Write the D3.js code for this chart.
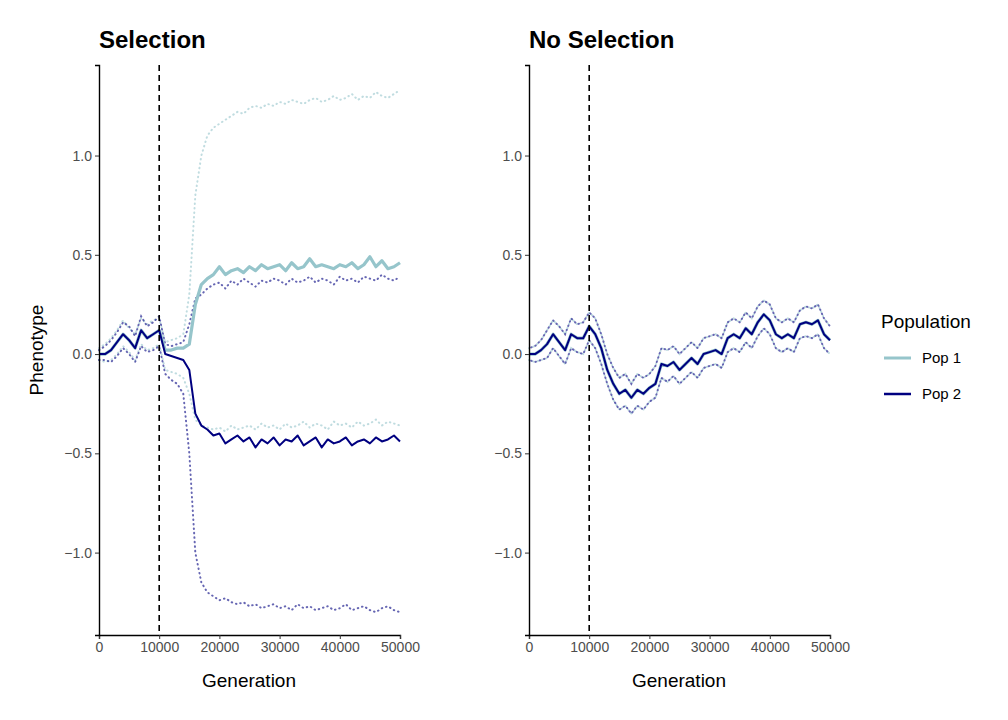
<!DOCTYPE html>
<html lang="en">
<head>
<meta charset="UTF-8">
<title>Selection vs No Selection</title>
<script src="https://d3js.org/d3.v7.min.js"></script>
<style>
  body { margin: 0; background: #fff; }
  text { font-family: "Liberation Sans", Arial, sans-serif; }
</style>
</head>
<body>
<svg width="1008" height="720"></svg>
<script>
// generations sampled every 1000
var gens = d3.range(0, 50001, 1000);

// Selection panel
var selPop1Mean = [0,0.0,0.02,0.06,0.1,0.07,0.03,0.12,0.08,0.1,0.12,
  0.02,0.02,0.03,0.03,0.05,0.25,0.35,0.38,0.4,0.44,0.4,0.42,0.43,0.41,0.44,0.42,0.45,0.43,0.44,0.45,
  0.42,0.46,0.43,0.44,0.48,0.44,0.45,0.44,0.43,0.45,0.44,0.46,0.43,0.45,0.49,0.44,0.47,0.43,0.44,0.46];
var selPop2Mean = [0,0.0,0.02,0.06,0.1,0.07,0.03,0.12,0.08,0.1,0.12,
  0.0,-0.01,-0.02,-0.03,-0.08,-0.3,-0.36,-0.38,-0.41,-0.4,-0.45,-0.43,-0.41,-0.44,-0.42,-0.47,-0.43,-0.45,-0.42,-0.46,
  -0.43,-0.44,-0.41,-0.46,-0.44,-0.42,-0.47,-0.43,-0.45,-0.44,-0.42,-0.46,-0.44,-0.43,-0.45,-0.42,-0.44,-0.43,-0.41,-0.44];
var selPop1Hi = [0.03,0.05,0.08,0.12,0.17,0.13,0.1,0.18,0.15,0.17,0.18,
  0.06,0.07,0.08,0.1,0.3,0.8,1.0,1.1,1.14,1.16,1.18,1.2,1.22,1.21,1.24,1.25,1.24,1.26,1.25,1.27,
  1.26,1.28,1.27,1.26,1.28,1.29,1.27,1.28,1.3,1.28,1.29,1.31,1.28,1.3,1.29,1.32,1.3,1.29,1.31,1.33];
var selPop1Lo = [-0.03,-0.04,-0.03,0.0,0.04,0.01,-0.03,0.05,0.02,0.03,0.05,
  -0.08,-0.09,-0.1,-0.12,-0.2,-0.33,-0.36,-0.37,-0.38,-0.37,-0.39,-0.36,-0.38,-0.37,-0.36,-0.38,-0.35,-0.37,-0.36,-0.38,
  -0.35,-0.37,-0.36,-0.34,-0.37,-0.35,-0.36,-0.38,-0.34,-0.36,-0.35,-0.37,-0.34,-0.36,-0.35,-0.33,-0.36,-0.34,-0.35,-0.36];
var selPop2Hi = [0.02,0.04,0.07,0.11,0.16,0.14,0.09,0.19,0.14,0.16,0.19,
  0.05,0.04,0.05,0.06,0.15,0.28,0.3,0.33,0.35,0.36,0.33,0.37,0.35,0.38,0.36,0.34,0.37,0.36,0.38,0.37,
  0.35,0.38,0.36,0.37,0.39,0.36,0.38,0.37,0.35,0.39,0.37,0.38,0.36,0.39,0.38,0.37,0.4,0.38,0.37,0.39];
var selPop2Lo = [-0.03,-0.03,-0.04,-0.01,0.03,0.0,-0.04,0.04,0.01,0.02,0.04,
  -0.1,-0.13,-0.15,-0.2,-0.5,-1.0,-1.15,-1.2,-1.22,-1.24,-1.23,-1.25,-1.26,-1.25,-1.27,-1.26,-1.28,-1.27,-1.26,-1.28,
  -1.27,-1.29,-1.26,-1.28,-1.27,-1.29,-1.28,-1.27,-1.29,-1.28,-1.26,-1.29,-1.28,-1.27,-1.29,-1.3,-1.28,-1.27,-1.29,-1.3];

// No selection panel (both populations coincide)
var neuMean = [0,0.0,0.02,0.05,0.1,0.06,0.02,0.1,0.08,0.08,0.14,0.1,0.03,-0.08,-0.15,-0.2,-0.18,-0.22,-0.18,-0.2,-0.17,
  -0.15,-0.05,-0.06,-0.04,-0.08,-0.05,-0.02,-0.05,0.0,0.01,0.02,0.0,0.08,0.1,0.08,0.13,0.1,0.16,0.2,0.17,
  0.1,0.08,0.1,0.08,0.15,0.16,0.15,0.17,0.1,0.07];
var neuHi = [0.03,0.04,0.07,0.12,0.17,0.14,0.1,0.18,0.15,0.16,0.21,0.18,0.1,0.0,-0.07,-0.12,-0.1,-0.15,-0.1,-0.12,-0.1,
  -0.06,0.03,0.02,0.04,0.0,0.03,0.06,0.03,0.08,0.09,0.1,0.08,0.16,0.18,0.16,0.21,0.18,0.24,0.27,0.25,
  0.18,0.16,0.18,0.16,0.22,0.24,0.23,0.25,0.18,0.14];
var neuLo = [-0.03,-0.04,-0.03,-0.02,0.03,-0.01,-0.05,0.03,0.01,0.0,0.07,0.03,-0.05,-0.15,-0.23,-0.28,-0.26,-0.3,-0.26,-0.28,-0.24,
  -0.22,-0.12,-0.14,-0.11,-0.15,-0.12,-0.09,-0.12,-0.07,-0.06,-0.05,-0.07,0.01,0.03,0.01,0.06,0.03,0.09,0.13,0.1,
  0.03,0.01,0.03,0.01,0.08,0.09,0.08,0.1,0.03,0.0];

var yTicks = [-1.0, -0.5, 0.0, 0.5, 1.0];
var xTicks = [0, 10000, 20000, 30000, 40000, 50000];
var pop1Color = "#96c5cb", pop2Color = "#000080";

var svg = d3.select("svg");
var y = d3.scaleLinear().domain([-1.415, 1.456]).range([635, 65]);

var panels = [
  { title: "Selection", x0: 99, lines: [
    { v: selPop1Hi, c: pop1Color, dot: true }, { v: selPop1Lo, c: pop1Color, dot: true },
    { v: selPop2Hi, c: pop2Color, dot: true }, { v: selPop2Lo, c: pop2Color, dot: true },
    { v: selPop1Mean, c: pop1Color, w: 3.2 }, { v: selPop2Mean, c: pop2Color, w: 2 }] },
  { title: "No Selection", x0: 529, lines: [
    { v: neuHi, c: pop1Color, dot: true }, { v: neuLo, c: pop1Color, dot: true },
    { v: neuHi, c: pop2Color, dot: true, off: 1 }, { v: neuLo, c: pop2Color, dot: true, off: 1 },
    { v: neuMean, c: pop1Color, w: 3.2 }, { v: neuMean, c: pop2Color, w: 2 }] }
];

panels.forEach(function(p) {
  var x = d3.scaleLinear().domain([0, 50000]).range([p.x0, p.x0 + 301]);
  var g = svg.append("g");

  p.lines.forEach(function(l) {
    var line = d3.line().x(function(d, i) { return x(gens[i]); }).y(function(d) { return y(d); });
    var path = g.append("path").datum(l.v).attr("d", line).attr("fill", "none")
      .attr("stroke", l.c).attr("stroke-width", l.dot ? 2 : l.w);
    if (l.dot) path.attr("stroke-dasharray", "0.5,4").attr("stroke-dashoffset", l.off ? 2.2 : 0)
      .attr("stroke-linecap", "round").attr("opacity", 0.6);
    else path.attr("stroke-linejoin", "round");
  });

  g.append("line").attr("x1", x(10000)).attr("x2", x(10000)).attr("y1", 65).attr("y2", 635)
    .attr("stroke", "#000").attr("stroke-width", 1.6).attr("stroke-dasharray", "6,4");

  var xa = g.append("g").attr("transform", "translate(0,635)")
    .call(d3.axisBottom(x).tickValues(xTicks).tickFormat(d3.format("d")).tickSizeOuter(0).tickSize(4));
  var ya = g.append("g").attr("transform", "translate(" + p.x0 + ",0)")
    .call(d3.axisLeft(y).tickValues(yTicks).tickFormat(d3.format(".1f")).tickSizeOuter(0).tickSize(4));
  [xa, ya].forEach(function(a) {
    a.select(".domain").attr("stroke", "#000").attr("stroke-width", 1.4);
    a.selectAll(".tick line").attr("stroke", "#333");
    a.selectAll(".tick text").attr("fill", "#4d4d4d").style("font-size", "14px")
      .style("font-family", "Liberation Sans, Arial, sans-serif");
  });
  ya.selectAll(".tick text").text(function(d) { return d < 0 ? "\u2212" + d3.format(".1f")(-d) : d3.format(".1f")(d); });

  g.append("text").attr("x", p.x0).attr("y", 48).text(p.title)
    .style("font-size", "24px").style("font-weight", "bold");
  g.append("text").attr("x", p.x0 + 150).attr("y", 687).attr("text-anchor", "middle")
    .text("Generation").style("font-size", "19px");
});

svg.append("text").attr("transform", "translate(43,350) rotate(-90)").attr("text-anchor", "middle")
  .text("Phenotype").style("font-size", "19px");

var leg = svg.append("g").attr("transform", "translate(881,0)");
leg.append("text").attr("x", 0).attr("y", 328).text("Population").style("font-size", "19px");
[["Pop 1", pop1Color, 3], ["Pop 2", pop2Color, 2.5]].forEach(function(it, i) {
  var yy = 358 + i * 36;
  leg.append("line").attr("x1", 3).attr("x2", 30).attr("y1", yy).attr("y2", yy)
    .attr("stroke", it[1]).attr("stroke-width", it[2]);
  leg.append("text").attr("x", 41).attr("y", yy + 5).text(it[0]).style("font-size", "15px");
});
</script>
</body>
</html>
